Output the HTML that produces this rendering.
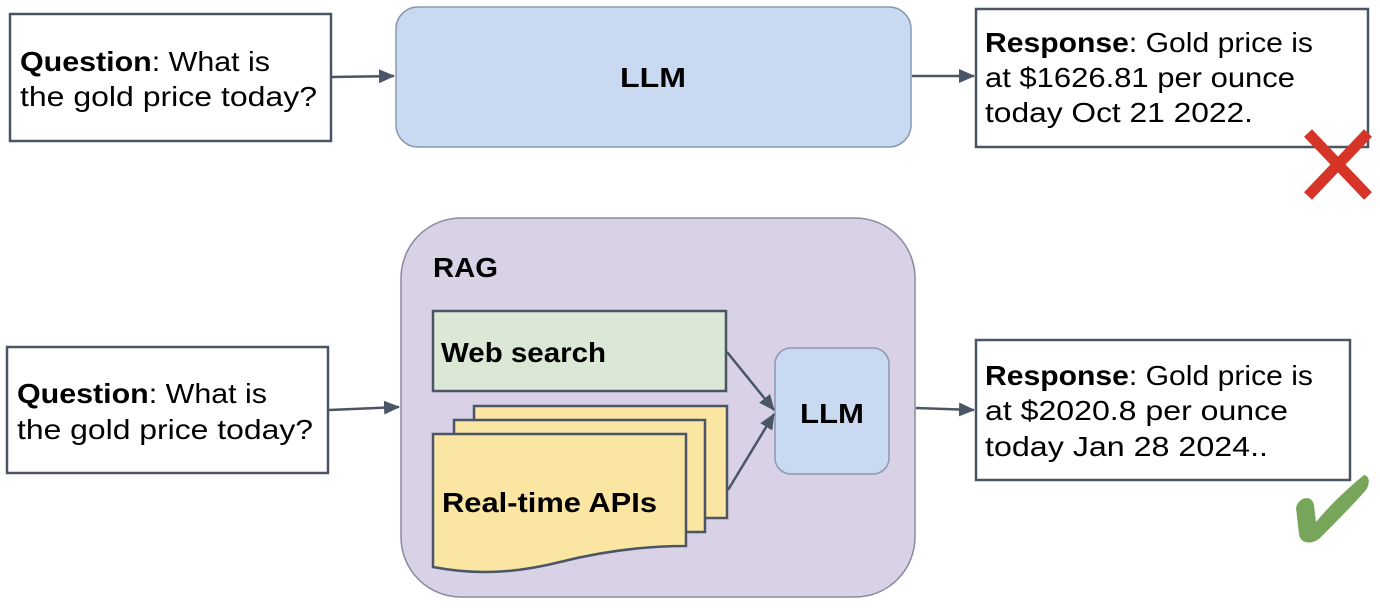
<!DOCTYPE html>
<html><head><meta charset="utf-8"><style>
html,body{margin:0;padding:0;background:#fff;}
svg{display:block;font-family:"Liberation Sans",sans-serif;}
</style></head><body>
<svg width="1380" height="610" viewBox="0 0 1380 610" xmlns="http://www.w3.org/2000/svg">
<defs>
<marker id="ah2" markerWidth="16" markerHeight="14" refX="15" refY="7" orient="auto" markerUnits="userSpaceOnUse" viewBox="0 0 16 14">
<path d="M0,0 L16,7 L0,14 Z" fill="#4a5566"/></marker>
</defs>
<g stroke="#4a5566" stroke-width="2.5" fill="#fff">
<rect x="10" y="14" width="321" height="127"/>
<rect x="976" y="9" width="392" height="138"/>
<rect x="7" y="347" width="321" height="126"/>
<rect x="976" y="340" width="374" height="140"/>
</g>
<rect x="396" y="7" width="515" height="140" rx="22" fill="#c9d9f2" stroke="#8a97b0" stroke-width="1.5"/>
<text x="620" y="87" font-size="28" font-weight="bold" textLength="66" lengthAdjust="spacingAndGlyphs">LLM</text>
<g font-size="28" fill="#000">
<text x="20" y="71" textLength="250" lengthAdjust="spacingAndGlyphs"><tspan font-weight="bold">Question</tspan>: What is</text>
<text x="20" y="106" textLength="297" lengthAdjust="spacingAndGlyphs">the gold price today?</text>
<text x="17" y="403" textLength="250" lengthAdjust="spacingAndGlyphs"><tspan font-weight="bold">Question</tspan>: What is</text>
<text x="17" y="439" textLength="296" lengthAdjust="spacingAndGlyphs">the gold price today?</text>
<text x="985" y="52" textLength="328" lengthAdjust="spacingAndGlyphs"><tspan font-weight="bold">Response</tspan>: Gold price is</text>
<text x="985" y="87" textLength="310" lengthAdjust="spacingAndGlyphs">at $1626.81 per ounce</text>
<text x="985" y="122" textLength="268" lengthAdjust="spacingAndGlyphs">today Oct 21 2022.</text>
<text x="985" y="385" textLength="328" lengthAdjust="spacingAndGlyphs"><tspan font-weight="bold">Response</tspan>: Gold price is</text>
<text x="985" y="420" textLength="303" lengthAdjust="spacingAndGlyphs">at $2020.8 per ounce</text>
<text x="985" y="456" textLength="283" lengthAdjust="spacingAndGlyphs">today Jan 28 2024..</text>
</g>
<g stroke="#4a5566" stroke-width="2.5">
<line x1="331" y1="77" x2="394" y2="76" marker-end="url(#ah2)"/>
<line x1="912" y1="76" x2="974" y2="76" marker-end="url(#ah2)"/>
<line x1="329" y1="410" x2="399" y2="407" marker-end="url(#ah2)"/>
<line x1="916" y1="408" x2="974" y2="410" marker-end="url(#ah2)"/>
</g>
<rect x="401" y="218" width="514" height="379" rx="60" fill="#d9d2e6" stroke="#8a8aa0" stroke-width="1.5"/>
<text x="433" y="277" font-size="28" font-weight="bold" textLength="65" lengthAdjust="spacingAndGlyphs">RAG</text>
<rect x="433" y="311" width="293" height="80" fill="#dce8d6" stroke="#4a5566" stroke-width="2.5"/>
<text x="441" y="362" font-size="28" font-weight="bold" textLength="165" lengthAdjust="spacingAndGlyphs">Web search</text>
<g fill="#fae5a3" stroke="#4a5566" stroke-width="2.5">
<rect x="474" y="406" width="253" height="112"/>
<rect x="454" y="420" width="251" height="112"/>
<path d="M433,434 H686 V546 C640,546 600,552 560,562 C520,572 480,576 433,567 Z"/>
</g>
<text x="442" y="512" font-size="28" font-weight="bold" textLength="215" lengthAdjust="spacingAndGlyphs">Real-time APIs</text>
<rect x="775" y="348" width="114" height="126" rx="16" fill="#c9d9f2" stroke="#8a97b0" stroke-width="1.5"/>
<text x="800" y="423" font-size="28" font-weight="bold" textLength="64" lengthAdjust="spacingAndGlyphs">LLM</text>
<g stroke="#4a5566" stroke-width="2.5">
<line x1="727" y1="352" x2="774" y2="410" marker-end="url(#ah2)"/>
<line x1="728" y1="490" x2="774" y2="414" marker-end="url(#ah2)"/>
</g>
<g stroke="#d63427" stroke-width="11" stroke-linecap="butt">
<line x1="1308" y1="133" x2="1368" y2="196"/>
<line x1="1368" y1="133" x2="1308" y2="196"/>
</g>
<path d="M1296,508 C1298,497 1312,494 1314,505 L1316,522 C1330,505 1348,488 1364,475 C1370,476 1370,484 1366,490 C1350,508 1334,524 1320,538 C1312,545 1300,544 1299,534 Z" fill="#77a65b"/>
</svg>
</body></html>
